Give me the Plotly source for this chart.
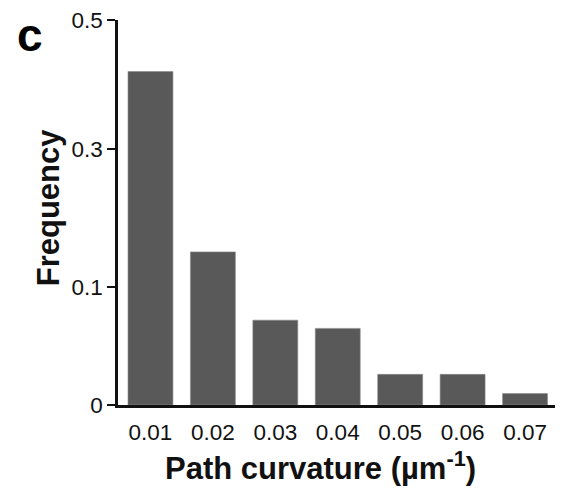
import numpy as np
import plotly.graph_objects as go

# ---- data ----
categories = ["0.01", "0.02", "0.03", "0.04", "0.05", "0.06", "0.07"]
frequency = [0.42, 0.151, 0.072, 0.065, 0.026, 0.026, 0.0097]

# the published y axis is not linear: labelled ticks and their spacing
y_tick_values = [0, 0.1, 0.3, 0.5]
y_tick_labels = ["0", "0.1", "0.3", "0.5"]
y_tick_spacing = [0, 118, 256.5, 385.5]  # axis scale (relative units) for each labelled tick


def to_axis(v):
    return np.interp(v, y_tick_values, y_tick_spacing)


FONT = "Liberation Sans, Arial, Helvetica, sans-serif"
BAR = "#595959"

fig = go.Figure()
fig.add_trace(go.Bar(
    x=categories,
    y=to_axis(frequency),
    marker=dict(color=BAR, line=dict(color="#8a8a8a", width=0.6)),
    width=0.72,
    hoverinfo="skip",
))

W, H = 562, 493
L, R, T, B = 118, 7, 20, 87.5
pw, ph = W - L - R, H - T - B


def px_to_paper(xp, yp):
    return (xp - L) / pw, (H - B - yp) / ph


fig.update_layout(
    width=W, height=H,
    margin=dict(l=L, r=R, t=T, b=B),
    paper_bgcolor="white", plot_bgcolor="white",
    showlegend=False,
    font=dict(family=FONT, color="#111111"),
    xaxis=dict(
        type="category",
        range=[-0.52, 6.48],
        showline=True, linecolor="#111111", linewidth=2.5,
        ticks="", showgrid=False, zeroline=False,
        tickfont=dict(size=22.5, family=FONT, color="#111111"),
        ticklabelstandoff=5,
    ),
    yaxis=dict(
        range=[0, y_tick_spacing[-1]],
        tickmode="array",
        tickvals=y_tick_spacing,
        ticktext=y_tick_labels,
        showline=True, linecolor="#111111", linewidth=2.5,
        ticks="outside", ticklen=8, tickwidth=2.2, tickcolor="#111111",
        showgrid=False, zeroline=False,
        tickfont=dict(size=22.5, family=FONT, color="#111111"),
        ticklabelstandoff=0,
    ),
)

ax, ay = px_to_paper(320, 467)
fig.add_annotation(
    x=ax, y=ay, xref="paper", yref="paper",
    text="<b>Path curvature (µm<sup>-1</sup>)</b>",
    showarrow=False, xanchor="center", yanchor="middle",
    font=dict(size=31, family=FONT, color="#111111"),
)
fx, fy = px_to_paper(48, 207.5)
fig.add_annotation(
    x=fx, y=fy, xref="paper", yref="paper",
    text="<b>Frequency</b>", textangle=-90,
    showarrow=False, xanchor="center", yanchor="middle",
    font=dict(size=31, family=FONT, color="#111111"),
)
cx, cy = px_to_paper(30, 35)
fig.add_annotation(
    x=cx, y=cy, xref="paper", yref="paper",
    text="<b>c</b>",
    showarrow=False, xanchor="center", yanchor="middle",
    font=dict(size=46, family=FONT, color="#000000"),
)

fig.write_html("out.html")
